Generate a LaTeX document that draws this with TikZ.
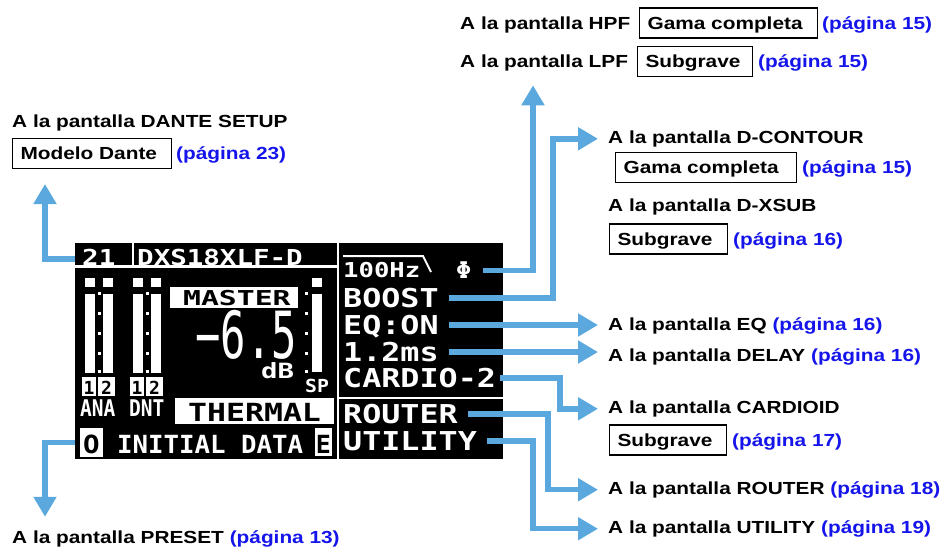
\documentclass[tikz,border=0pt]{standalone}
\usepackage{fontspec}
\usepackage{graphicx}
\setmainfont{Liberation Sans}[FakeStretch=1.19]
\newfontfamily\lcdfam{DejaVu Sans Mono}
\usetikzlibrary{arrows.meta}
\definecolor{arrowblue}{RGB}{90,168,222}
\definecolor{pageblue}{RGB}{20,20,235}
\newcommand{\lcdt}[3]{\scalebox{#1}[1]{\lcdfam\bfseries\fontsize{#2pt}{#2pt}\selectfont #3}}
\newcommand{\lcdr}[3]{\scalebox{#1}[1]{\lcdfam\fontsize{#2pt}{#2pt}\selectfont #3}}
\newcommand{\pg}[1]{\textcolor{pageblue}{(página #1)}}
\begin{document}
\begin{tikzpicture}[x=1pt,y=-1pt,
  lab/.style={anchor=base west, inner sep=0pt, font=\fontsize{17.5pt}{20pt}\selectfont\bfseries},
  box/.style={draw=black, line width=1.1pt, anchor=west, inner xsep=8pt, inner ysep=0pt,
              minimum height=30pt, text height=12.6pt, text depth=0pt,
              font=\fontsize{17.5pt}{20pt}\selectfont\bfseries},
  lcdw/.style={anchor=base west, inner sep=0pt, text=white, text depth=0pt},
  lcdb/.style={anchor=base west, inner sep=0pt, text=black, text depth=0pt},
  row/.style={lcdw, text height=19pt},
  conn/.style={draw=arrowblue, line width=5.5pt, -{Triangle[length=20pt,width=22pt]}, line join=miter},
  wline/.style={draw=white, line width=2.5pt}]
\useasboundingbox (0,0) rectangle (950,547);

% ---------- display ----------
\node[fill=black, inner sep=0pt, minimum width=428pt, minimum height=216pt, anchor=north west] (disp) at (75,243) {};
\draw[wline] (75,266.5) -- (338,266.5);
\draw[wline] (133,243) -- (133,266.5);
\draw[wline] (338,243) -- (338,459);
\draw[wline] (338,398) -- (503,398);

\node[lcdw] (num) at (82,265) {\lcdt{1.25}{22}{21}};
\node[lcdw] (model) at (137,265) {\lcdt{1.25}{22}{DXS18XLF-D}};

% meters
\foreach \x in {85,103,133,151} {
  \fill[white] (\x,278) rectangle ++(10,9);
  \fill[white] (\x,294) rectangle ++(10,79);
}
\fill[white] (312,278) rectangle ++(10,9);
\fill[white] (312,294) rectangle ++(10,78);
\foreach \x in {98,146,305} \foreach \y in {292,312,332,352,370}
  \fill[white] (\x,\y) rectangle ++(3,3);

\fill[white] (82,377) rectangle (96,396);
\fill[white] (98,377) rectangle (115,396);
\fill[white] (130,377) rectangle (144,396);
\fill[white] (146,377) rectangle (163,396);
\node[lcdb, anchor=base] (a1) at (89,394) {\lcdt{1}{18}{1}};
\node[lcdb, anchor=base] (a2) at (106.5,394) {\lcdt{1}{18}{2}};
\node[lcdb, anchor=base] (d1) at (137,394) {\lcdt{1}{18}{1}};
\node[lcdb, anchor=base] (d2) at (154.5,394) {\lcdt{1}{18}{2}};
\node[lcdw] (ana) at (80,416) {\lcdt{0.85}{23}{ANA}};
\node[lcdw] (dnt) at (129,416) {\lcdt{0.85}{23}{DNT}};

\fill[white] (170,287) rectangle (298,308);
\node[lcdb] (master) at (183,305) {\lcdt{1.45}{20.5}{MASTER}};
\node[lcdw] (level) at (195,358) {\lcdr{0.65}{65}{−6.5}};
\node[lcdw] (db) at (261,378.5) {\lcdt{1.3}{21}{dB}};
\node[lcdw] (sp) at (305,392) {\lcdt{1.1}{18}{SP}};

\fill[white] (175,398) rectangle (334,424);
\node[lcdb] (thermal) at (188,421) {\lcdt{1.26}{25}{THERMAL}};

\fill[white] (80,428) rectangle (103,457);
\node[lcdb, anchor=base] (obox) at (91.5,453) {\lcdt{1.1}{25}{O}};
\node[lcdw] (initial) at (117,453) {\lcdt{1.03}{25}{INITIAL DATA}};
\fill[white] (315,428) rectangle (332,456);
\node[lcdb, anchor=base] (ebox) at (323.5,453) {\lcdt{1}{25}{E}};

% right panel
\draw[white, line width=2pt] (343,256) -- (423,256) -- (431,272);
\node[lcdw] (hz) at (343,277.5) {\lcdt{1.25}{20.5}{100Hz}};
\node[lcdw, text height=16pt] (phi) at (456,278.5) {\lcdt{1.1}{23}{Φ}};
\node[row] (boost) at (343,307.5) {\lcdt{1.22}{26}{BOOST}};
\node[row] (eqd) at (343,334.5) {\lcdt{1.22}{26}{EQ:ON}};
\node[row] (dly) at (343,361.5) {\lcdt{1.22}{26}{1.2ms}};
\node[row] (cardio) at (343,387.5) {\lcdt{1.22}{26}{CARDIO-2}};
\node[row] (router) at (343,423.5) {\lcdt{1.22}{26}{ROUTER}};
\node[row] (utility) at (343,450.5) {\lcdt{1.22}{26}{UTILITY}};

% ---------- labels ----------
\node[lab] (hpf) at (460,29.5) {A la pantalla HPF};
\node[box] (hpfbox) at (639,23) {\makebox[162pt][l]{Gama completa}};
\node[lab] (hpfpg) at (822,29.5) {\pg{15}};
\node[lab] (lpf) at (460,67.5) {A la pantalla LPF};
\node[box] (lpfbox) at (637,61.5) {\makebox[99pt][l]{Subgrave}};
\node[lab] (lpfpg) at (758,67.5) {\pg{15}};

\node[lab] (dante) at (12,127.3) {A la pantalla DANTE SETUP};
\node[box] (dantebox) at (12,153.5) {\makebox[143pt][l]{Modelo Dante}};
\node[lab] (dantepg) at (176,159.5) {\pg{23}};

\node[lab] (cont) at (608,143.3) {A la pantalla D-CONTOUR};
\node[box] (contbox) at (615,167.5) {\makebox[165pt][l]{Gama completa}};
\node[lab] (contpg) at (802,173.5) {\pg{15}};
\node[lab] (xsub) at (608,211.7) {A la pantalla D-XSUB};
\node[box] (xsubbox) at (609,239) {\makebox[102pt][l]{Subgrave}};
\node[lab] (xsubpg) at (733,245.3) {\pg{16}};

\node[lab] (eqlab) at (608,330) {A la pantalla EQ \pg{16}};
\node[lab] (dlylab) at (608,361.7) {A la pantalla DELAY \pg{16}};
\node[lab] (card) at (608,413.3) {A la pantalla CARDIOID};
\node[box] (cardbox) at (609,440) {\makebox[101pt][l]{Subgrave}};
\node[lab] (cardpg) at (732,446.5) {\pg{17}};
\node[lab] (rout) at (608,494.3) {A la pantalla ROUTER \pg{18}};
\node[lab] (util) at (608,533.3) {A la pantalla UTILITY \pg{19}};
\node[lab] (preset) at (12,543.3) {A la pantalla PRESET \pg{13}};

% ---------- connectors ----------
\coordinate (xH) at (533,0);
\coordinate (xB) at (553,0);
\coordinate (xC) at (560,0);
\coordinate (xR) at (548,0);
\coordinate (xU) at (533,0);
\coordinate (xD) at (45,0);
\coordinate (yD) at (0,259);
\coordinate (yP) at (0,442.5);

\draw[conn, shorten >=14pt] (phi.east) ++(11pt,0) -| (lpf.south -| xH);
\draw[conn, shorten >=10pt] (boost.east) ++(10pt,0) -| (cont.west -| xB) -- (cont.west);
\draw[conn, shorten >=10pt] (eqd.east) ++(10pt,0) -- (eqd.east -| eqlab.west);
\draw[conn, shorten >=10pt] (dly.east) ++(10pt,0) -- (dly.east -| dlylab.west);
\draw[conn, shorten >=10pt] (cardio.east) ++(4pt,0) -| (card.west -| xC) -- (card.west);
\draw[conn, shorten >=10pt] (router.east) ++(10pt,0) -| (rout.west -| xR) -- (rout.west);
\draw[conn, shorten >=10pt] (utility.east) ++(10pt,0) -| (util.west -| xU) -- (util.west);
\draw[conn, shorten >=15pt] (disp.west |- yD) -| (dantebox.south -| xD);
\draw[conn, shorten >=13.5pt] (disp.west |- yP) -| (preset.north -| xD);
\end{tikzpicture}
\end{document}
